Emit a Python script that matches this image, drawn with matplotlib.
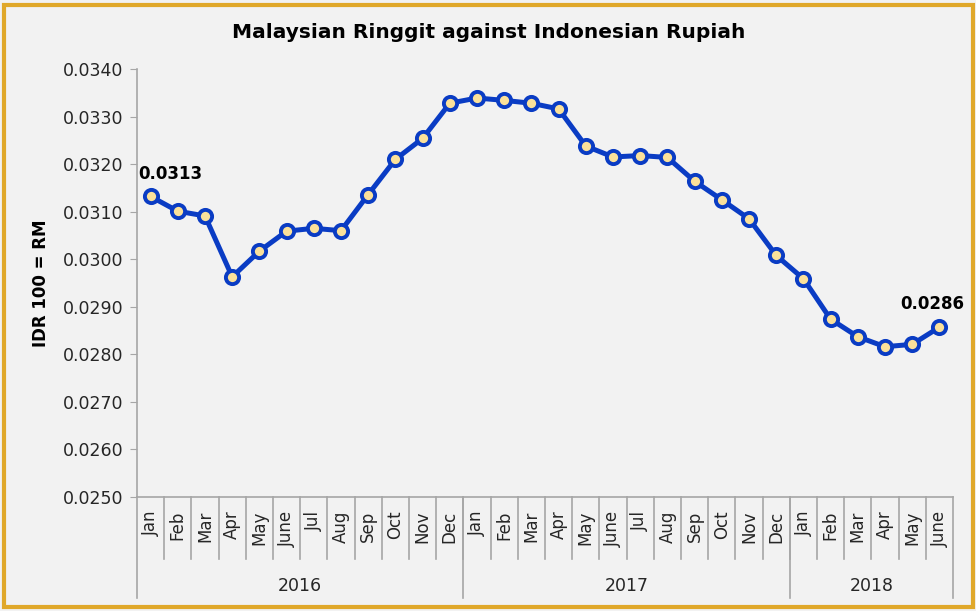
import matplotlib.pyplot as plt
from matplotlib.patches import Rectangle
from matplotlib.transforms import blended_transform_factory

# ---- data (IDR 100 = RM, monthly) ----
months = ["Jan", "Feb", "Mar", "Apr", "May", "June", "Jul", "Aug", "Sep", "Oct", "Nov", "Dec",
          "Jan", "Feb", "Mar", "Apr", "May", "June", "Jul", "Aug", "Sep", "Oct", "Nov", "Dec",
          "Jan", "Feb", "Mar", "Apr", "May", "June"]
years = ["2016", "2017", "2018"]
year_counts = [12, 12, 6]
rate = [0.03132, 0.03101, 0.03091, 0.02963, 0.03017, 0.03059, 0.03065, 0.03060,
        0.03136, 0.03210, 0.03254, 0.03328,
        0.03339, 0.03334, 0.03328, 0.03316, 0.03238, 0.03215, 0.03218, 0.03214,
        0.03164, 0.03125, 0.03085, 0.03008,
        0.02959, 0.02874, 0.02837, 0.02816, 0.02821, 0.02857]
first_label = "0.0313"
last_label = "0.0286"

bg = "#F2F2F2"
blue = "#0A3CC4"
axis_gray = "#A6A6A6"

fig = plt.figure(figsize=(9.76, 6.11), dpi=100, facecolor=bg)
ax = fig.add_axes([137 / 976, 1 - 497 / 611, 816 / 976, 428 / 611])
ax.set_facecolor(bg)

x = list(range(len(rate)))
ax.plot(x, rate, color=blue, lw=3.6, marker="o", ms=9.5, mfc="#FBE19A",
        mec=blue, mew=2.8, solid_joinstyle="round", zorder=3)

ax.set_xlim(-0.5, len(rate) - 0.5)
ax.set_ylim(0.0250, 0.0340)
ax.set_yticks([0.0250 + 0.001 * i for i in range(10)])
ax.set_yticklabels([f"{0.0250 + 0.001 * i:.4f}" for i in range(10)])
ax.tick_params(axis="y", direction="out", length=5, color=axis_gray,
               labelsize=12.5, labelcolor="#262626", pad=5)
ax.set_xticks([])

for s in ["top", "right"]:
    ax.spines[s].set_visible(False)
for s in ["left", "bottom"]:
    ax.spines[s].set_color(axis_gray)
    ax.spines[s].set_linewidth(1.2)

ax.set_ylabel("IDR 100 = RM", fontsize=12, fontweight="bold", labelpad=9)

# category axis: month labels, separators, year groups
trans = blended_transform_factory(ax.transData, ax.transAxes)
for i, m in enumerate(months):
    ax.text(i, -0.032, m, rotation=90, ha="center", va="top", fontsize=12,
            color="#262626", transform=trans)
for i in range(1, len(months)):
    ax.plot([i - 0.5, i - 0.5], [0, -0.145], color=axis_gray, lw=1.2,
            transform=trans, clip_on=False)

start = 0
ax.plot([-0.5, -0.5], [0, -0.236], color=axis_gray, lw=1.2, transform=trans, clip_on=False)
for yr, n in zip(years, year_counts):
    end = start + n
    ax.plot([end - 0.5, end - 0.5], [0, -0.236], color=axis_gray, lw=1.2,
            transform=trans, clip_on=False)
    ax.text((start + end - 1) / 2, -0.208, yr, ha="center", va="center",
            fontsize=12.5, color="#262626", transform=trans)
    start = end

# data labels on first and last points
ax.annotate(first_label, (x[0], rate[0]), xytext=(-9, 10), textcoords="offset points",
            ha="left", va="bottom", fontsize=12, fontweight="bold")
ax.annotate(last_label, (x[-1], rate[-1]), xytext=(18, 10), textcoords="offset points",
            ha="right", va="bottom", fontsize=12, fontweight="bold")

fig.text(489 / 976, 1 - 33 / 611, "Malaysian Ringgit against Indonesian Rupiah",
         ha="center", va="center", fontsize=14.5, fontweight="bold")

# gold frame around the chart
fig.patches.append(Rectangle((4 / 976, 4 / 611), 969 / 976, 602 / 611, transform=fig.transFigure,
                             fill=False, edgecolor="#E0A82A", lw=3))

fig.savefig("out.png", dpi=100, facecolor=bg)
